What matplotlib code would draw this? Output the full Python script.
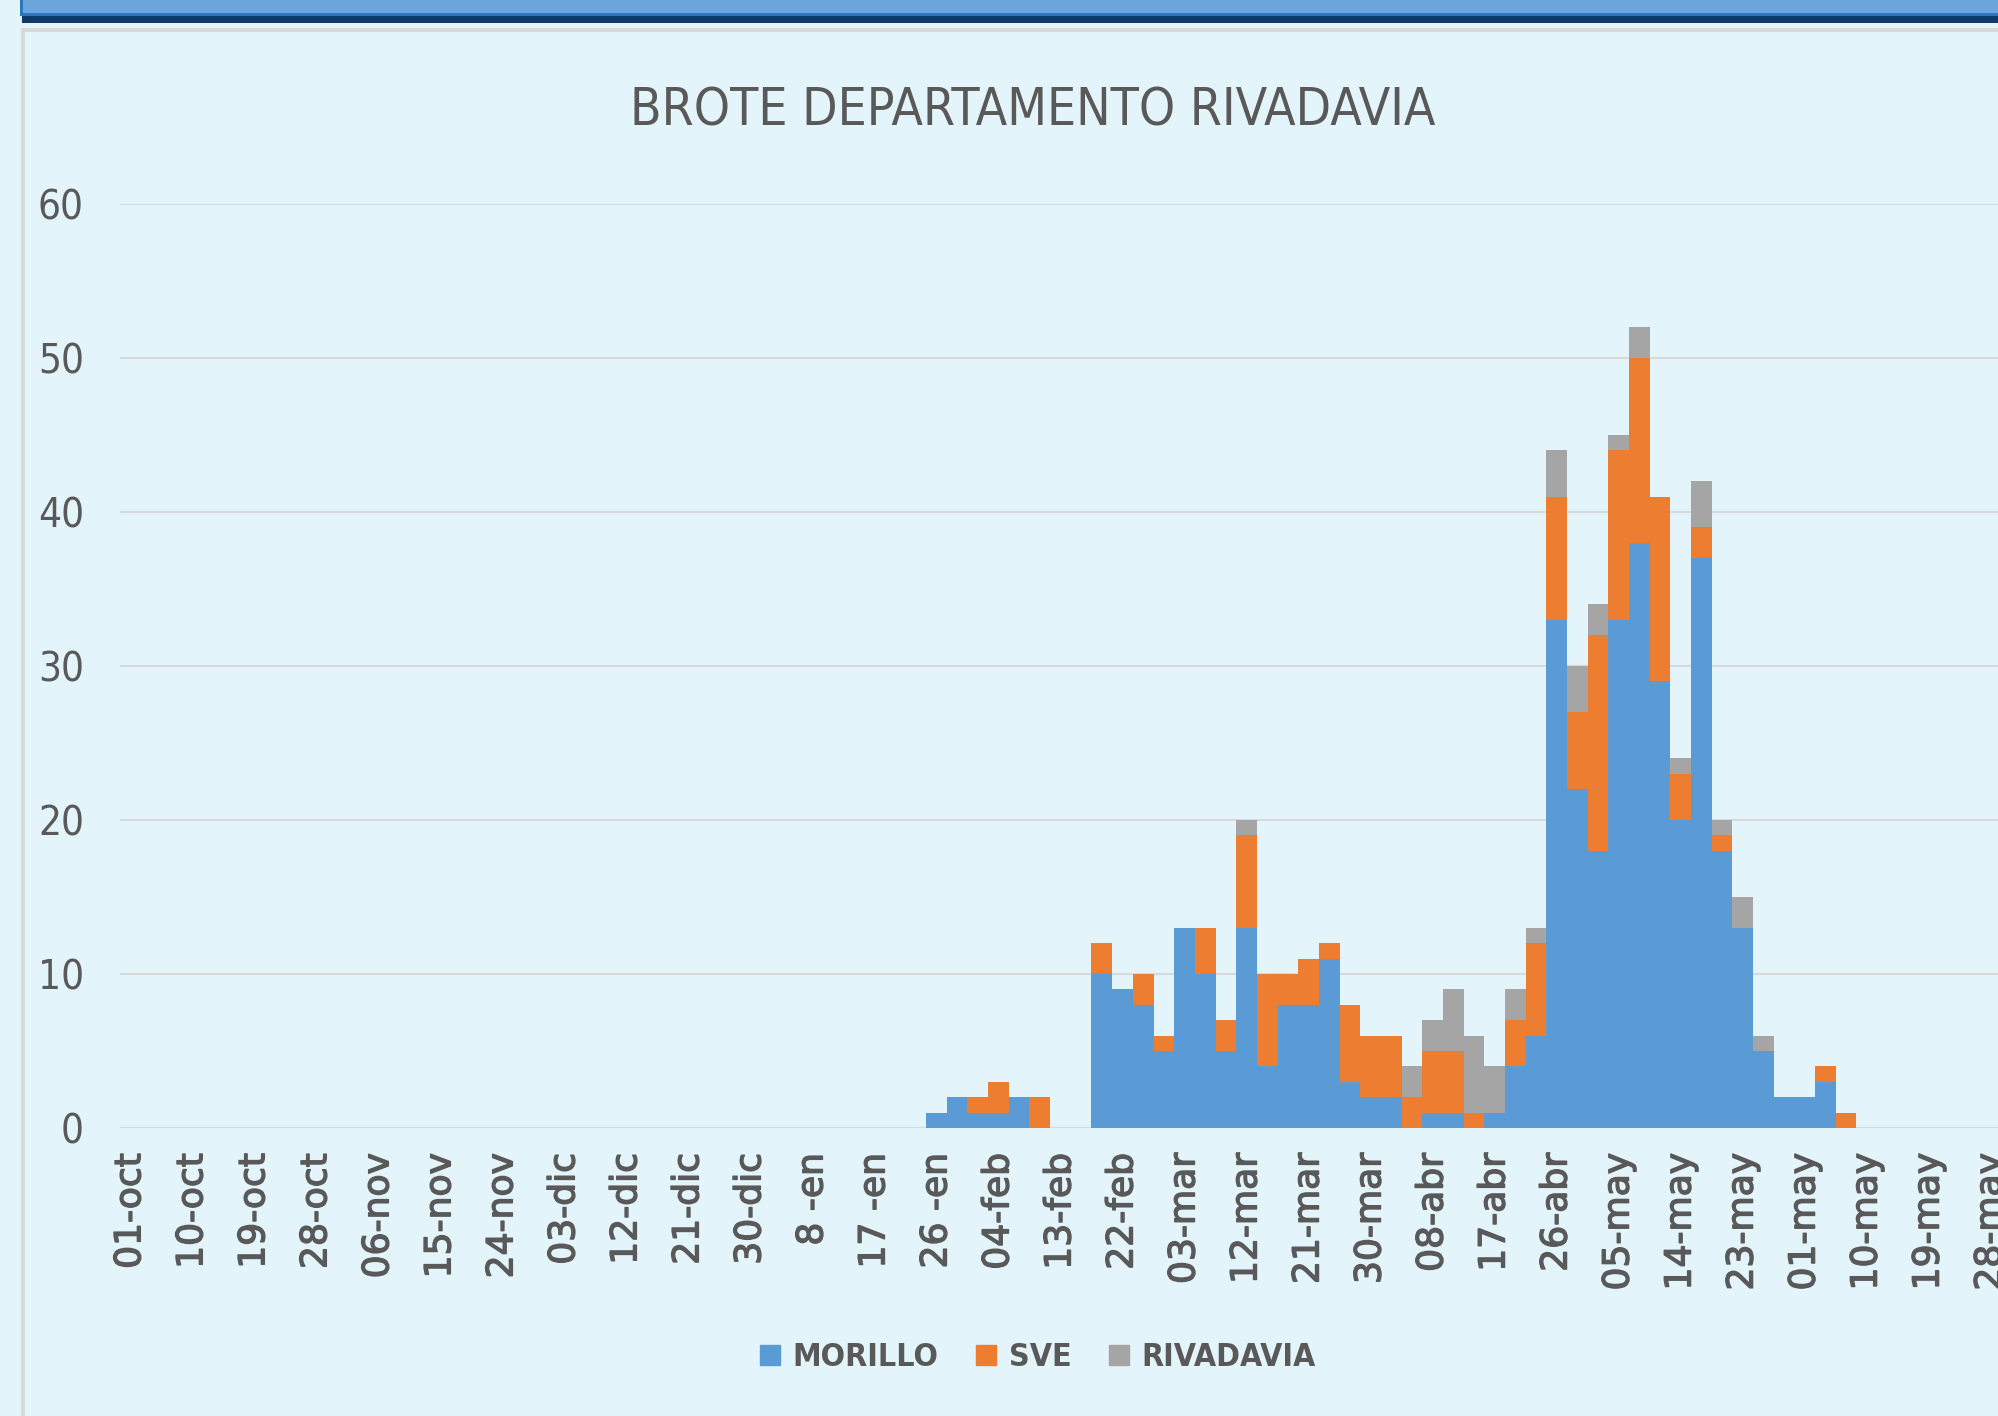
import os
import matplotlib
matplotlib.use('Agg')
import matplotlib.pyplot as plt
import matplotlib.patheffects as pe
from matplotlib.patches import Rectangle
from matplotlib.lines import Line2D
from matplotlib import font_manager
from matplotlib.font_manager import FontProperties

# 3-day bins from 01-oct, only every third bin gets a label
tick_labels = ['01-oct', '10-oct', '19-oct', '28-oct', '06-nov', '15-nov', '24-nov',
               '03-dic', '12-dic', '21-dic', '30-dic', '8 -en', '17 -en', '26 -en',
               '04-feb', '13-feb', '22-feb', '03-mar', '12-mar', '21-mar', '30-mar',
               '08-abr', '17-abr', '26-abr', '05-may', '14-may', '23-may', '01-may',
               '10-may', '19-may', '28-may']

morillo = [0, 0, 0, 0, 0, 0, 0, 0, 0, 0,
           0, 0, 0, 0, 0, 0, 0, 0, 0, 0,
           0, 0, 0, 0, 0, 0, 0, 0, 0, 0,
           0, 0, 0, 0, 0, 0, 0, 0, 0, 1,
           2, 1, 1, 2, 0, 0, 0, 10, 9, 8,
           5, 13, 10, 5, 13, 4, 8, 8, 11, 3,
           2, 2, 0, 1, 1, 0, 1, 4, 6, 33,
           22, 18, 33, 38, 29, 20, 37, 18, 13, 5,
           2, 2, 3, 0, 0, 0, 0, 0, 0, 0,
           0, 0, 0]
sve = [0, 0, 0, 0, 0, 0, 0, 0, 0, 0,
       0, 0, 0, 0, 0, 0, 0, 0, 0, 0,
       0, 0, 0, 0, 0, 0, 0, 0, 0, 0,
       0, 0, 0, 0, 0, 0, 0, 0, 0, 0,
       0, 1, 2, 0, 2, 0, 0, 2, 0, 2,
       1, 0, 3, 2, 6, 6, 2, 3, 1, 5,
       4, 4, 2, 4, 4, 1, 0, 3, 6, 8,
       5, 14, 11, 12, 12, 3, 2, 1, 0, 0,
       0, 0, 1, 1, 0, 0, 0, 0, 0, 0,
       0, 0, 0]
rivadavia = [0, 0, 0, 0, 0, 0, 0, 0, 0, 0,
             0, 0, 0, 0, 0, 0, 0, 0, 0, 0,
             0, 0, 0, 0, 0, 0, 0, 0, 0, 0,
             0, 0, 0, 0, 0, 0, 0, 0, 0, 0,
             0, 0, 0, 0, 0, 0, 0, 0, 0, 0,
             0, 0, 0, 0, 1, 0, 0, 0, 0, 0,
             0, 0, 2, 2, 4, 5, 3, 2, 1, 3,
             3, 2, 1, 2, 0, 1, 3, 1, 2, 1,
             0, 0, 0, 0, 0, 0, 0, 0, 0, 0,
             0, 0, 0]


# the original uses a narrow office font, look for a condensed face
def find_font(keys, fallback):
    files = {os.path.basename(f.fname).lower(): f.fname for f in font_manager.fontManager.ttflist}
    for k in keys:
        if k in files:
            return FontProperties(fname=files[k])
    return FontProperties(family=fallback[0], weight=fallback[1])


fp_reg = find_font(['liberationsansnarrow-regular.ttf', 'dejavusanscondensed.ttf'],
                   ('Noto Sans CJK JP', 'normal'))
fp_bold = find_font(['liberationsansnarrow-bold.ttf', 'dejavusanscondensed-bold.ttf'],
                    ('Noto Sans CJK JP', 'bold'))

bg = '#E3F4FB'
txt = '#595959'
W, H = 1999, 1416

fig = plt.figure(figsize=(W / 100, H / 100), dpi=100, facecolor=bg)


def box(x, y, w, h, color):
    # pixel box, measured from the top left of the picture
    fig.patches.append(Rectangle((x / W, 1 - (y + h) / H), w / W, h / H,
                                 transform=fig.transFigure, color=color, lw=0, zorder=5))


# window frame at the top and the chart border
box(20, 0, W - 20, 13, '#6AA5DB')
box(20, 0, 3, 15, '#2E75C0')
box(20, 13, W - 20, 3, '#2E75C0')
box(22, 16, W - 22, 7, '#0D3A66')
box(21, 28, W - 21, 4, '#D9D9D9')
box(21, 28, 4, H - 28, '#D9D9D9')

n = len(morillo)
x = list(range(n))
ax = fig.add_axes([120 / W, (H - 1128) / H, n * 20.67 / W, 924 / H])
ax.set_facecolor(bg)

bot2 = [a + b for a, b in zip(morillo, sve)]
ax.bar(x, morillo, width=1.0, color='#5B9BD5', lw=0, zorder=3)
ax.bar(x, sve, width=1.0, bottom=morillo, color='#ED7D31', lw=0, zorder=3)
ax.bar(x, rivadavia, width=1.0, bottom=bot2, color='#A5A5A5', lw=0, zorder=3)

ax.set_xlim(-0.5, n - 0.5)
ax.set_ylim(0, 60)
ax.set_yticks(range(0, 61, 10))
ax.set_xticks(range(0, n, 3))
ax.set_xticklabels(tick_labels, rotation=90, fontsize=26, color=txt, va='top')
for lab in ax.get_xticklabels():
    lab.set_path_effects([pe.withStroke(linewidth=1.0, foreground=txt)])
ax.tick_params(axis='x', length=0, pad=18)
ax.tick_params(axis='y', length=0, pad=26, labelcolor=txt)
for lab in ax.get_yticklabels():
    lab.set_fontproperties(fp_reg)
    lab.set_fontsize(29)
ax.grid(axis='y', color='#D9D9D9', lw=1.5, zorder=0)
for s in ax.spines.values():
    s.set_visible(False)

title = fig.text(1033 / W, 1 - 111 / H, 'BROTE DEPARTAMENTO RIVADAVIA', ha='center',
                 va='center', fontproperties=fp_reg, color=txt)
title.set_fontsize(42)

# scale title and legend text so their widths match the original
fig.canvas.draw()
r = fig.canvas.get_renderer()
title.set_fontsize(42 * 806 / title.get_window_extent(r).width)
probe = fig.text(0, 0, 'MORILLO', fontproperties=fp_bold)
probe.set_fontsize(25)
leg_size = 25 * 146 / probe.get_window_extent(r).width
probe.remove()

handles = [Line2D([], [], marker='s', ls='none', markersize=13.7, color=c)
           for c in ['#5B9BD5', '#ED7D31', '#A5A5A5']]
leg_prop = fp_bold.copy()
leg_prop.set_size(leg_size)
fig.legend(handles, ['MORILLO', 'SVE', 'RIVADAVIA'], loc='center',
           bbox_to_anchor=(1038 / W, 1 - 1358 / H), ncol=3, frameon=False,
           prop=leg_prop, labelcolor=txt,
           handlelength=0.6, handletextpad=0.4, columnspacing=1.2)

fig.savefig('out.png', dpi=100, facecolor=bg)
